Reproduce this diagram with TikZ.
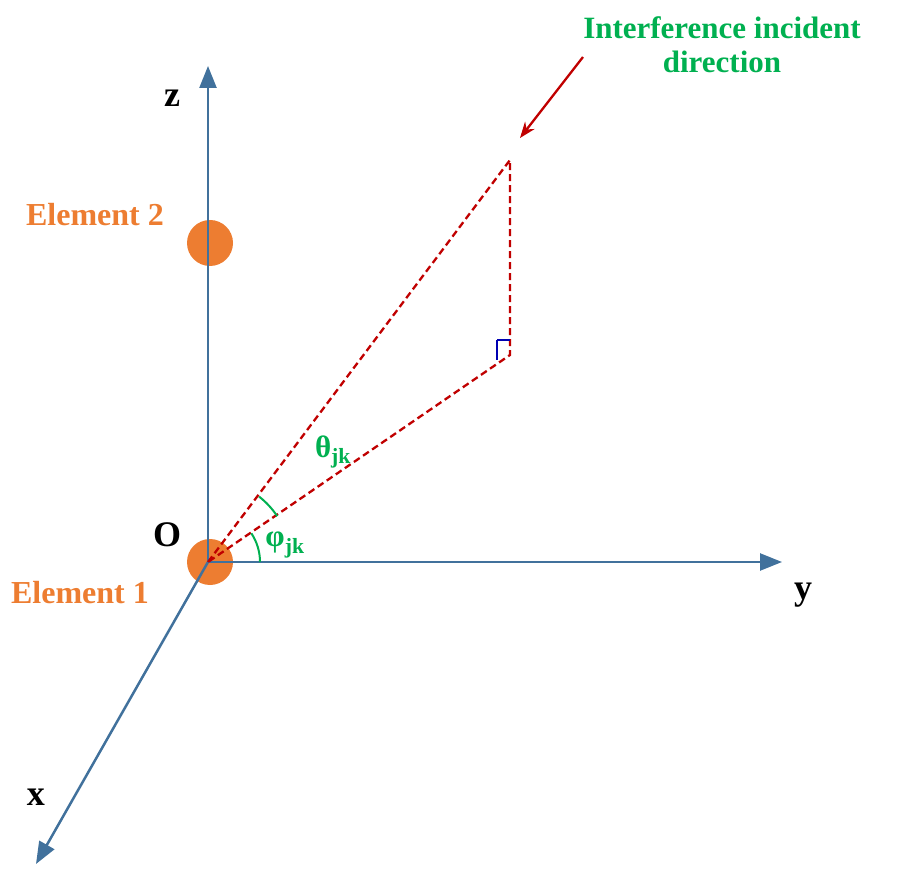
\documentclass[tikz,border=0pt]{standalone}
\usepackage{fontspec}
\setmainfont{Liberation Serif}
\usetikzlibrary{arrows.meta}
\definecolor{axisblue}{RGB}{65,113,156}
\definecolor{elorange}{RGB}{237,125,49}
\definecolor{grn}{RGB}{0,176,80}
\definecolor{dred}{RGB}{192,0,0}
\begin{document}
\begin{tikzpicture}[x=1pt,y=-1pt,
  axis/.style={draw=axisblue,line width=2.5pt,-{Triangle[length=22pt,width=17pt]}},
  elem/.style={circle,fill=elorange,minimum size=46pt,inner sep=0},
  lab/.style={font=\bfseries\fontsize{36}{38}\selectfont},
  olab/.style={font=\bfseries\fontsize{32}{34}\selectfont,text=elorange},
  glab/.style={font=\bfseries\fontsize{31}{34}\selectfont,text=grn},
  reddash/.style={draw=dred,line width=2.3pt,dash pattern=on 7pt off 4pt}]
\useasboundingbox (0,0) rectangle (905,874);
\node[elem] (e2) at (210,243) {};
\node[elem] (e1) at (210,562) {};
\coordinate (O) at (208,562);
\coordinate (zt) at (208,66);
\coordinate (yt) at (782,562);
\coordinate (xt) at (36,864);
\draw[axis] (O) -- (zt);
\draw[axis] (O) -- (yt);
\draw[axis] (O) -- (xt);
\coordinate (P) at (510,160);
\coordinate (Q) at (510,355);
\draw[reddash] (O) -- (P) -- (Q) -- cycle;
\draw[draw=blue!70!black,line width=1.5pt] (497,340) -- (497,360) (497,340) -- (510,340);
\coordinate (as) at (583,57);
\coordinate (ae) at (520,138);
\draw[draw=dred,line width=2.3pt,-{Stealth[length=16pt,width=12pt]}] (as) -- (ae);
\draw[draw=grn,line width=2pt] (O) ++(-33.5:83) arc[start angle=-33.5,end angle=-52,radius=83];
\draw[draw=grn,line width=2pt] (O) ++(0:52) arc[start angle=0,end angle=-33.5,radius=52];
\node[lab] (lz) at (172,98) {z};
\node[lab] (ly) at (803,595) {y};
\node[lab] (lx) at (36,797) {x};
\node[lab] (lO) at (167,535) {O};
\node[olab] (l2) at (95,215) {Element 2};
\node[olab] (l1) at (80,593) {Element 1};
\node[glab,align=center] (li) at (722,45) {Interference incident\\direction};
\node[glab] (th) at (333,452) {θ\textsubscript{jk}};
\node[glab] (ph) at (285,545) {φ\textsubscript{jk}};
\end{tikzpicture}
\end{document}
